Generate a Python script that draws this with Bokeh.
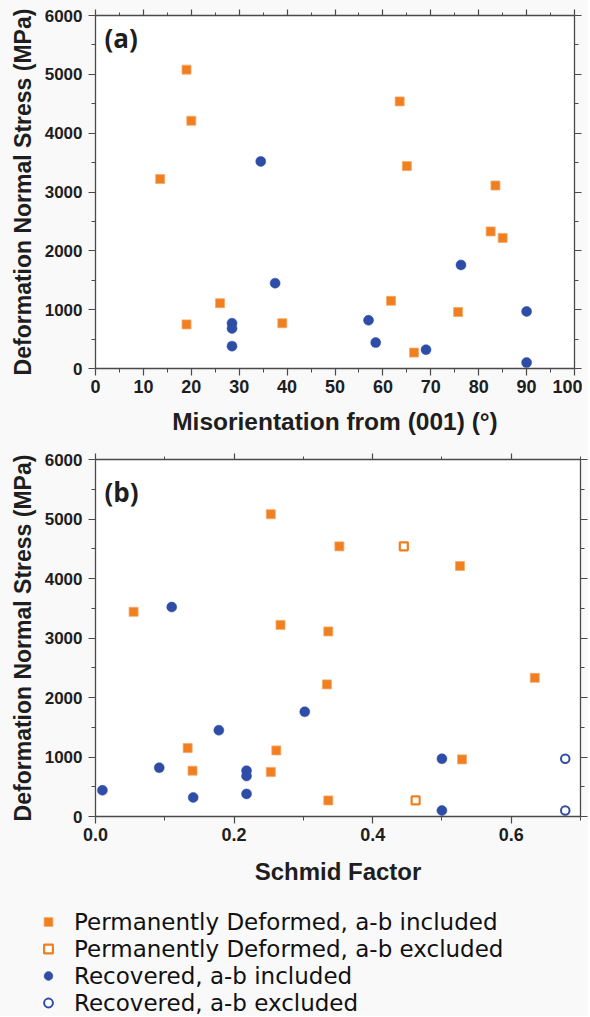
from bokeh.plotting import figure
from bokeh.models import LinearAxis, FixedTicker, Legend, LegendItem, Label, Range1d
from bokeh.layouts import column
from bokeh.embed import file_html
from bokeh.resources import INLINE

# ---------------- data ----------------
# Panel (a): misorientation from (001) (deg) vs deformation normal stress (MPa)
a_pd_x = [19, 20, 13.5, 26, 19, 39, 63.5, 65, 83.5, 82.5, 85, 61.7, 75.7, 66.5]
a_pd_y = [5080, 4210, 3220, 1110, 750, 770, 4540, 3440, 3110, 2330, 2220, 1150, 960, 270]
a_rec_x = [34.5, 37.5, 28.5, 28.5, 28.5, 76.3, 90, 57, 58.5, 69, 90]
a_rec_y = [3520, 1450, 770, 680, 380, 1760, 970, 820, 440, 320, 100]

# Panel (b): Schmid factor vs deformation normal stress (MPa)
b_pd_inc_x = [0.253, 0.055, 0.267, 0.133, 0.261, 0.140, 0.253, 0.352, 0.526, 0.336, 0.334, 0.634, 0.529, 0.336]
b_pd_inc_y = [5080, 3440, 3220, 1150, 1110, 770, 750, 4540, 4210, 3110, 2220, 2330, 960, 270]
b_pd_exc_x = [0.445, 0.462]
b_pd_exc_y = [4540, 270]
b_rec_inc_x = [0.110, 0.178, 0.092, 0.218, 0.218, 0.218, 0.010, 0.141, 0.302, 0.500, 0.500]
b_rec_inc_y = [3520, 1450, 820, 770, 680, 380, 440, 320, 1760, 970, 100]
b_rec_exc_x = [0.678, 0.678]
b_rec_exc_y = [970, 100]

# ticks
y_ticks = [0, 1000, 2000, 3000, 4000, 5000, 6000]
y_minor = [500, 1500, 2500, 3500, 4500, 5500]
a_x_ticks = [0, 10, 20, 30, 40, 50, 60, 70, 80, 90, 100]
a_x_minor = [5, 15, 25, 35, 45, 55, 65, 75, 85, 95]
b_x_ticks = [0.0, 0.2, 0.4, 0.6]
b_x_tick_labels = ["0.0", "0.2", "0.4", "0.6"]
b_x_minor = [0.1, 0.3, 0.5, 0.7]

legend_labels = ["Permanently Deformed, a-b included",
                 "Permanently Deformed, a-b excluded",
                 "Recovered, a-b included",
                 "Recovered, a-b excluded"]

ORANGE = "#F07F21"
BLUE = "#2E4DA6"
AXIS_COL = "#4a4a4a"
TEXT_COL = "#1e1e1e"
BORDER_BG = "#f9f9f9"
FONT = "Liberation Sans"


def style_axis(ax, ticker, label_size="18px"):
    ax.ticker = ticker
    ax.axis_line_color = AXIS_COL
    ax.axis_line_width = 1.3
    ax.major_tick_line_color = AXIS_COL
    ax.minor_tick_line_color = AXIS_COL
    ax.major_tick_line_width = 1.2
    ax.minor_tick_line_width = 1.0
    ax.major_tick_in = 0
    ax.major_tick_out = 7
    ax.minor_tick_in = 0
    ax.minor_tick_out = 4
    ax.major_label_text_font = FONT
    ax.major_label_text_font_style = "bold"
    ax.major_label_text_font_size = label_size
    ax.major_label_text_color = TEXT_COL
    ax.axis_label_text_font = FONT
    ax.axis_label_text_font_style = "bold"
    ax.axis_label_text_font_size = "24px"
    ax.axis_label_text_color = TEXT_COL


def mirror_axis(p, ticker, side, tick_out):
    ax = LinearAxis(ticker=ticker)
    style_axis(ax, ticker)
    ax.major_tick_out = tick_out
    ax.minor_tick_out = 3 if side == "above" else 4
    ax.major_label_text_font_size = "0px"
    ax.major_label_standoff = 0
    ax.major_label_overrides = {t: "" for t in ticker.ticks}
    ax.axis_label = None
    p.add_layout(ax, side)


def make_fig(width, height, xr, mbl, mbr, mbt, mbb, xlabel):
    p = figure(width=width, height=height, x_range=xr, y_range=Range1d(0, 6000),
               output_backend="svg", toolbar_location=None,
               min_border_left=mbl, min_border_right=mbr,
               min_border_top=mbt, min_border_bottom=mbb,
               x_axis_label=xlabel, y_axis_label="Deformation Normal Stress (MPa)")
    p.grid.visible = False
    p.outline_line_color = None
    p.background_fill_color = "white"
    p.border_fill_color = BORDER_BG
    return p


SQ_F = dict(marker="square", size=9, fill_color=ORANGE, line_color="#F6A865", line_width=0.8)
SQ_O = dict(marker="square", size=8, fill_color="white", line_color=ORANGE, line_width=2.2)
CI_F = dict(marker="circle", size=10, fill_color=BLUE, line_color=BLUE, line_width=0.5)
CI_O = dict(marker="circle", size=8.5, fill_color="white", line_color=BLUE, line_width=2)

# ---------------- panel (a) ----------------
p1 = make_fig(582, 449, Range1d(0, 100), 95, 8, 15, 81,
              "Misorientation from (001) (\u00b0)")
style_axis(p1.xaxis[0], FixedTicker(ticks=a_x_ticks, minor_ticks=a_x_minor))
style_axis(p1.yaxis[0], FixedTicker(ticks=y_ticks, minor_ticks=y_minor), "17px")
p1.xaxis[0].axis_label_text_font_size = "24.5px"
p1.yaxis[0].axis_label_text_font_size = "23px"
p1.xaxis[0].major_label_standoff = 4
p1.xaxis[0].axis_label_standoff = 12
p1.yaxis[0].major_label_standoff = 6
p1.yaxis[0].axis_label_standoff = 6
mirror_axis(p1, FixedTicker(ticks=a_x_ticks, minor_ticks=a_x_minor), "above", 6)
mirror_axis(p1, FixedTicker(ticks=y_ticks, minor_ticks=y_minor), "right", 7)

p1.scatter(a_pd_x, a_pd_y, **SQ_F)
p1.scatter(a_rec_x, a_rec_y, **CI_F)
p1.add_layout(Label(x=9, y=331, x_units="screen", y_units="screen", text="(a)",
                    text_font="Open Sans", text_font_style="bold",
                    text_font_size="26px", text_color=TEXT_COL,
                    text_baseline="middle"))

# ---------------- panel (b) ----------------
p2 = make_fig(588, 446, Range1d(0, 0.7), 95, 8, 10, 79, "Schmid Factor")
bxt = FixedTicker(ticks=b_x_ticks, minor_ticks=b_x_minor)
style_axis(p2.xaxis[0], bxt)
p2.xaxis[0].major_label_overrides = dict(zip(b_x_ticks, b_x_tick_labels))
style_axis(p2.yaxis[0], FixedTicker(ticks=y_ticks, minor_ticks=y_minor), "17px")
p2.yaxis[0].axis_label_text_font_size = "23px"
p2.xaxis[0].major_label_standoff = 4
p2.xaxis[0].axis_label_standoff = 14
p2.yaxis[0].major_label_standoff = 6
p2.yaxis[0].axis_label_standoff = 6
mirror_axis(p2, FixedTicker(ticks=b_x_ticks, minor_ticks=b_x_minor), "above", 6)
mirror_axis(p2, FixedTicker(ticks=y_ticks, minor_ticks=y_minor), "right", 7)

p2.scatter(b_pd_inc_x, b_pd_inc_y, **SQ_F)
p2.scatter(b_pd_exc_x, b_pd_exc_y, **SQ_O)
p2.scatter(b_rec_inc_x, b_rec_inc_y, **CI_F)
p2.scatter(b_rec_exc_x, b_rec_exc_y, **CI_O)
p2.add_layout(Label(x=9, y=325, x_units="screen", y_units="screen", text="(b)",
                    text_font="Open Sans", text_font_style="bold",
                    text_font_size="26px", text_color=TEXT_COL,
                    text_baseline="middle"))

# ---------------- legend strip ----------------
# Same series plotted with a range that keeps them off this strip; only the legend shows.
p3 = figure(width=588, height=121, x_range=Range1d(-2, -1), y_range=Range1d(-2, -1),
            output_backend="svg", toolbar_location=None,
            x_axis_location=None, y_axis_location=None,
            min_border_left=95, min_border_right=8, min_border_top=0, min_border_bottom=0,
            margin=(0, 0, 0, -58))
p3.grid.visible = False
p3.outline_line_color = None
p3.background_fill_color = BORDER_BG
p3.border_fill_color = BORDER_BG
l1 = p3.scatter(b_pd_inc_x, b_pd_inc_y, **SQ_F)
l2 = p3.scatter(b_pd_exc_x, b_pd_exc_y, **SQ_O)
l3 = p3.scatter(b_rec_inc_x, b_rec_inc_y, **CI_F)
l4 = p3.scatter(b_rec_exc_x, b_rec_exc_y, **CI_O)
legend = Legend(items=[LegendItem(label=legend_labels[0], renderers=[l1]),
                       LegendItem(label=legend_labels[1], renderers=[l2]),
                       LegendItem(label=legend_labels[2], renderers=[l3]),
                       LegendItem(label=legend_labels[3], renderers=[l4])],
                location=(0, 0), orientation="vertical",
                padding=0, margin=0, spacing=0,
                glyph_width=22, glyph_height=27, label_height=27,
                label_standoff=15,
                label_text_font="DejaVu Sans", label_text_font_size="23px",
                label_text_color="#111111",
                border_line_alpha=0, background_fill_alpha=0)
p3.add_layout(legend)

layout = column(p1, p2, p3, spacing=0, styles={"background-color": BORDER_BG})
open("out.html", "w").write(file_html(layout, INLINE))
